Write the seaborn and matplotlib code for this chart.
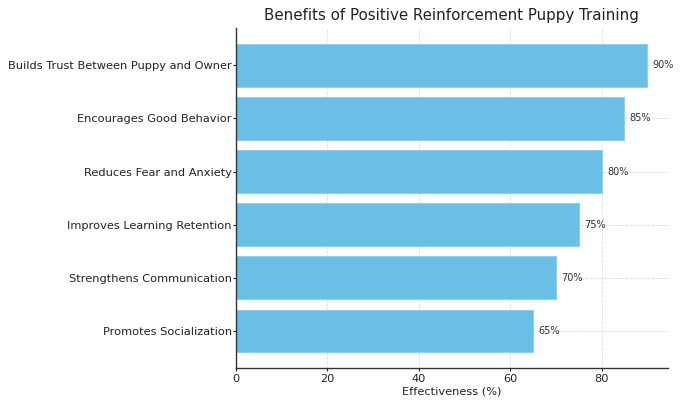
import pandas as pd
import seaborn as sns
import matplotlib.pyplot as plt

benefits = [
    "Builds Trust Between Puppy and Owner",
    "Encourages Good Behavior",
    "Reduces Fear and Anxiety",
    "Improves Learning Retention",
    "Strengthens Communication",
    "Promotes Socialization",
]
effectiveness = [90, 85, 80, 75, 70, 65]

df = pd.DataFrame({"Benefit": benefits, "Effectiveness": effectiveness})

sns.set_style("whitegrid", {"grid.linestyle": "--", "grid.color": "#dddddd"})
plt.rcParams['font.family'] = ['DejaVu Sans']

fig, ax = plt.subplots(figsize=(6.8, 4.08), dpi=100)
sns.barplot(data=df, x="Effectiveness", y="Benefit", color="#6bbfe4",
            saturation=1, width=0.8, edgecolor="#8fd0ee", linewidth=0.8, ax=ax)
ax.grid(True, linestyle="--", linewidth=0.6, color="#dddddd")

# value labels to the right of each bar
for i, v in enumerate(effectiveness):
    ax.text(v + 1.2, i, f"{v}%", va="center", ha="left", fontsize=7, color="#333333")

ax.set_xlim(0, 94.5)
ax.set_ylim(5.7, -0.7)
ax.set_title("Benefits of Positive Reinforcement Puppy Training", fontsize=10.8, color="#222222")
ax.set_xlabel("Effectiveness (%)", fontsize=8.2, color="#222222", labelpad=2)
ax.set_ylabel("")
ax.tick_params(axis="both", labelsize=8.2, colors="#222222", length=2.5, pad=1.5,
               left=True, bottom=True)
ax.tick_params(axis="y", pad=0.5)
for side in ["top", "right"]:
    ax.spines[side].set_visible(False)
for side in ["left", "bottom"]:
    ax.spines[side].set_color("#333333")
    ax.spines[side].set_linewidth(1)

plt.subplots_adjust(left=0.347, right=0.982, top=0.931, bottom=0.098)
plt.savefig("out.png")
